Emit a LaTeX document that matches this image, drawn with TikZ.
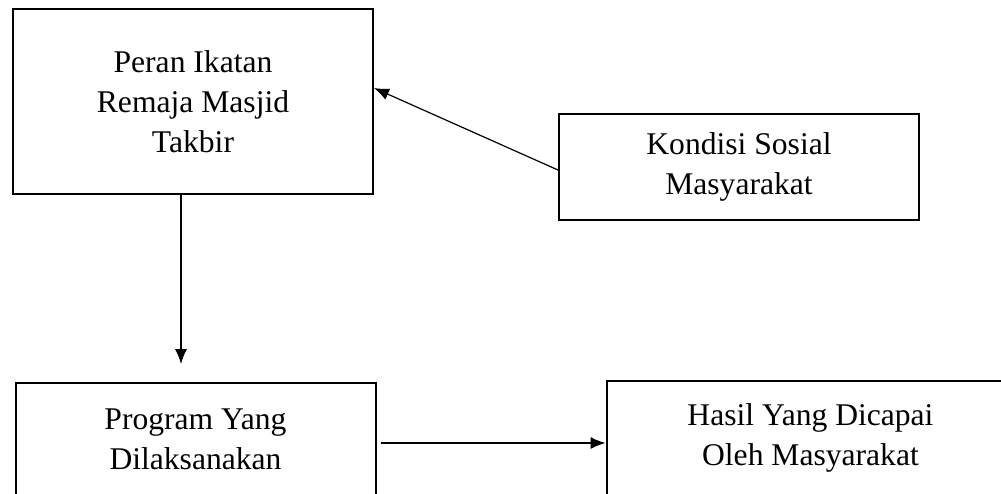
\documentclass[tikz,border=0pt]{standalone}
\usepackage{fontspec}
\setmainfont{Liberation Serif}
\usetikzlibrary{positioning, arrows.meta}
\tikzstyle{box} = [rectangle, minimum width=180pt, text centered, align=center, draw=black, line width=1pt, font=\fontsize{15.8}{20}\selectfont]
\tikzstyle{arrow} = [line width=0.6pt, ->, >={Latex[length=7.5pt,width=6pt]}]

\begin{document}
\begin{tikzpicture}[x=0.5pt, y=-0.5pt]
\useasboundingbox (0,0) rectangle (1001,493);
\clip (0,0) rectangle (1001,493);

% Nodes
\node (peran) [box, minimum height=92.5pt] at (193,101.5) {Peran Ikatan\\Remaja Masjid\\Takbir};
\node (kondisi) [box, minimum height=53pt, right=92pt of peran, yshift=-32.75pt] {Kondisi Sosial\\Masyarakat};
\node (program) [box, minimum height=56pt, below=93.5pt of peran, xshift=1.25pt] {Program Yang\\Dilaksanakan};
\node (hasil) [box, minimum width=204pt, minimum height=57pt, right=114.5pt of program, yshift=0.5pt] {Hasil Yang Dicapai\\Oleh Masyarakat};

% Arrows
\draw [arrow] ([yshift=-1.5pt]kondisi.west) -- ([yshift=6.75pt]peran.east);
\draw [arrow, shorten >=9pt] ([xshift=-6pt]peran.south) -- ([xshift=-6pt]peran.south |- program.north);
\draw [arrow, shorten <=2pt] ([yshift=-2pt]program.east) -- ([yshift=-2pt]program.east -| hasil.west);

\end{tikzpicture}
\end{document}
